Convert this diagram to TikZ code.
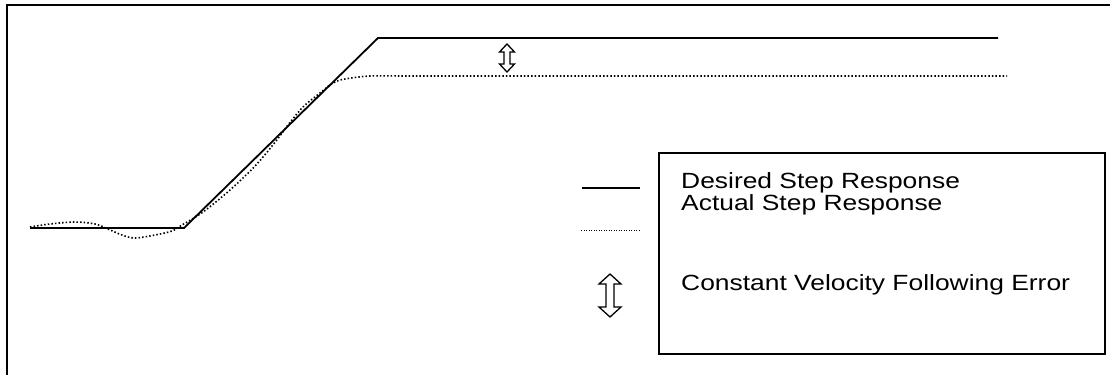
\documentclass[tikz,border=0pt]{standalone}
\usepackage{fontspec}
\setmainfont{Liberation Sans}
\begin{document}
\begin{tikzpicture}[x=1pt,y=-1pt,
  frame/.style={line width=1.8pt},
  desired/.style={line width=1.8pt, line join=miter},
  actual/.style={line width=1.6pt, dash pattern=on 1.5pt off 2.1pt},
  legdot/.style={line width=1pt, dash pattern=on 1pt off 1.5pt},
  legtext/.style={anchor=base west, inner sep=0pt, font=\fontsize{22}{24}\selectfont},
  dblarrow/.style={line width=1.3pt, line join=miter}]
\useasboundingbox (0,0) rectangle (1110,375);
\fill[white] (0,0) rectangle (1110,375);
% frame
\draw[frame] (6,5) -- (1110,5);
\draw[frame] (7,5) -- (7,375);
% desired step response
\draw[desired] (30,228) -- (184,228) -- (378,38) -- (998,38);
% actual step response
\draw[actual] plot[smooth, tension=0.55] coordinates {(30,227) (50,224) (75,222) (95,224) (108,229) (122,235) (135,238) (155,235) (172,231) (182,225) (203,212) (230,190) (256,165) (276,141) (288,125) (303,107) (320,93) (333,83) (345,79) (370,76) (400,76)} -- (1007,76);
% error arrow on the plot
\draw[dblarrow] (507,44) -- (514.5,52) -- (510,52) -- (510,64) -- (514.5,64) -- (507,72) -- (499.5,64) -- (504,64) -- (504,52) -- (499.5,52) -- cycle;
% legend
\node[draw, line width=1.5pt, anchor=north west, inner sep=0pt, minimum width=446pt, minimum height=201pt] (legend) at (658,152) {};
\coordinate (ls1) at (582,188);
\coordinate (le1) at (640,188);
\draw[line width=1.8pt] (ls1) -- (le1);
\coordinate (ls2) at (581,230);
\coordinate (le2) at (639,230);
\draw[legdot] (ls2) -- (le2);
\draw[dblarrow] (610,274) -- (621,284) -- (614,284) -- (614,307) -- (621,307) -- (610,317) -- (599,307) -- (606,307) -- (606,284) -- (599,284) -- cycle;
\node[legtext] (t1) at (681,188) {\scalebox{1.2}[1]{Desired Step Response}};
\node[legtext] (t2) at (681,210) {\scalebox{1.2}[1]{Actual Step Response}};
\node[legtext] (t3) at (681,290) {\scalebox{1.2}[1]{Constant Velocity Following Error}};
\end{tikzpicture}
\end{document}
